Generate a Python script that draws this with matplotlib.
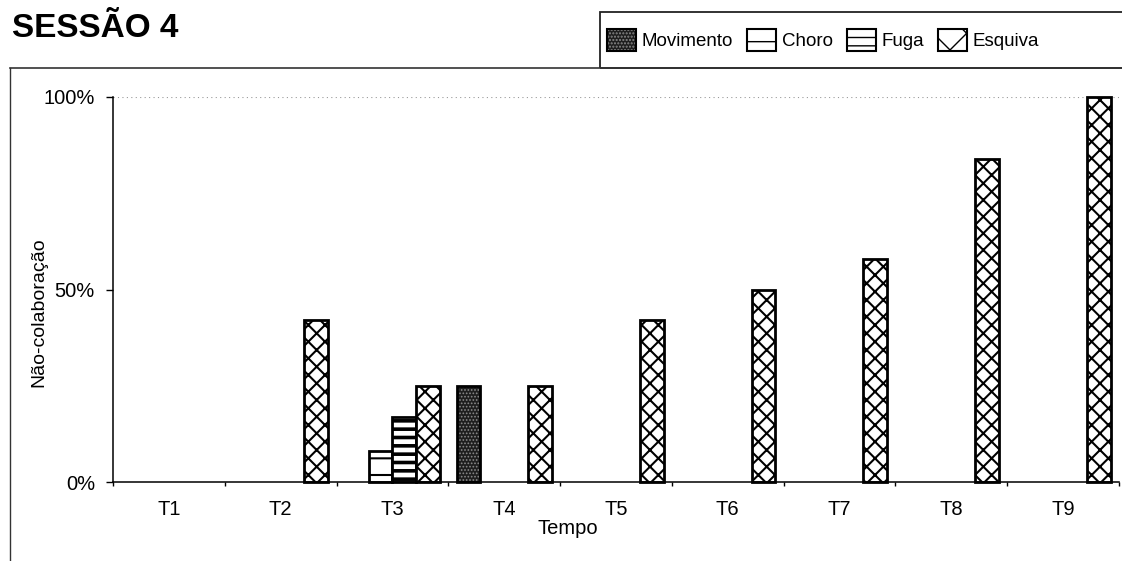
import matplotlib
matplotlib.use("Agg")
import matplotlib.pyplot as plt
from matplotlib.patches import Patch, Rectangle
from matplotlib.lines import Line2D
from matplotlib.legend_handler import HandlerTuple
import numpy as np

plt.rcParams['font.family'] = ['Liberation Sans', 'DejaVu Sans']

categorias = ['T1', 'T2', 'T3', 'T4', 'T5', 'T6', 'T7', 'T8', 'T9']
movimento = [0, 0, 0, 25, 0, 0, 0, 0, 0]
choro = [0, 0, 8, 0, 0, 0, 0, 0, 0]
fuga = [0, 0, 17, 0, 0, 0, 0, 0, 0]
esquiva = [0, 42, 25, 25, 42, 50, 58, 84, 100]

W, H = 1122, 561
fig = plt.figure(figsize=(W / 100, H / 100), dpi=100)
ax = fig.add_axes([113 / W, 1 - 482 / H, (1119 - 113) / W, (482 - 97) / H])

x = np.arange(len(categorias))
w = 0.2125


def hatch_lw(bars, lw):
    for b in bars:
        if hasattr(b, 'set_hatch_linewidth'):
            b.set_hatch_linewidth(lw)


def barras(valores, offset):
    v = np.array(valores, dtype=float) / 100
    idx = np.nonzero(v)[0]
    return x[idx] + offset, v[idx]


# movimento: dark stipple
xs, hs = barras(movimento, -1.5 * w)
b = ax.bar(xs, hs, w, facecolor='#1e1e1e', edgecolor='#8a8a8a', hatch='.....', lw=0, clip_on=False)
hatch_lw(b, 0.8)
ax.bar(xs, hs, w, fill=False, edgecolor='black', lw=2, clip_on=False)

# choro
xs, hs = barras(choro, -0.5 * w)
b = ax.bar(xs, hs, w, facecolor='white', edgecolor='black', hatch='-', lw=2, clip_on=False)
hatch_lw(b, 1.5)

# fuga
xs, hs = barras(fuga, 0.5 * w)
b = ax.bar(xs, hs, w, facecolor='white', edgecolor='black', hatch='--', lw=2, clip_on=False)
hatch_lw(b, 2.6)

# esquiva
xs, hs = barras(esquiva, 1.5 * w)
b = ax.bar(xs, hs, w, facecolor='white', edgecolor='black', hatch='xx', lw=2, clip_on=False)
hatch_lw(b, 1.5)

ax.set_xlim(-0.5, len(categorias) - 0.5)
ax.set_ylim(0, 1)
ax.axhline(1.0, color='#999999', lw=0.8, ls=(0, (1, 3)), zorder=0)

for s in ['top', 'right']:
    ax.spines[s].set_visible(False)
for s in ['left', 'bottom']:
    ax.spines[s].set_linewidth(1.1)

ax.set_yticks([0, 0.5, 1.0])
ax.set_yticklabels(['0%', '50%', '100%'], fontsize=14.5)
ax.tick_params(axis='y', length=5, width=1, pad=8)
ax.set_xticks(x)
ax.set_xticklabels(categorias, fontsize=14.5)
ax.tick_params(axis='x', which='major', length=0, pad=13)
ax.set_xticks(np.arange(-0.5, len(categorias)), minor=True)
ax.tick_params(axis='x', which='minor', length=3, width=1)

ax.set_xlabel('Tempo', fontsize=14.5)
ax.xaxis.set_label_coords(0.452, -0.097)
ax.xaxis.label.set_va('top')
ax.set_ylabel('Não-colaboração', fontsize=14)
ax.yaxis.set_label_coords(-0.0736, 0.44)
ax.yaxis.label.set_va('center')

fig.text(12 / W, 1 - 13 / H, 'SESSÃO 4', fontsize=24, fontweight='bold', va='top', ha='left')

# outer frame and legend box
fig.add_artist(Line2D([10 / W, 10 / W], [0, 1 - 68 / H], color='#333333', lw=1.0))
fig.add_artist(Line2D([10 / W, 1], [1 - 68 / H, 1 - 68 / H], color='#333333', lw=1.2))
fig.add_artist(Rectangle((600 / W, 1 - 68 / H), 530 / W, 56 / H, fill=False,
                         edgecolor='#222222', lw=1.3, transform=fig.transFigure))

h_mov = (Patch(facecolor='#1e1e1e', edgecolor='#8a8a8a', hatch='.....', lw=0),
         Patch(fill=False, edgecolor='black', lw=1.5))
h_cho = Patch(facecolor='white', edgecolor='black', hatch='-', lw=1.5)
h_fug = Patch(facecolor='white', edgecolor='black', hatch='--', lw=1.5)
h_esq = Patch(facecolor='white', edgecolor='black', hatch='x', lw=1.5)
leg = fig.legend([h_mov, h_cho, h_fug, h_esq], ['Movimento', 'Choro', 'Fuga', 'Esquiva'],
                 loc='center left', bbox_to_anchor=(603 / W, 1 - 40 / H), ncol=4,
                 frameon=False, fontsize=13.5, handlelength=1.55, handleheight=1.45,
                 handletextpad=0.3, columnspacing=0.75, borderaxespad=0, borderpad=0.2,
                 handler_map={tuple: HandlerTuple(ndivide=1, pad=0)})

fig.savefig('out.png', dpi=100)
